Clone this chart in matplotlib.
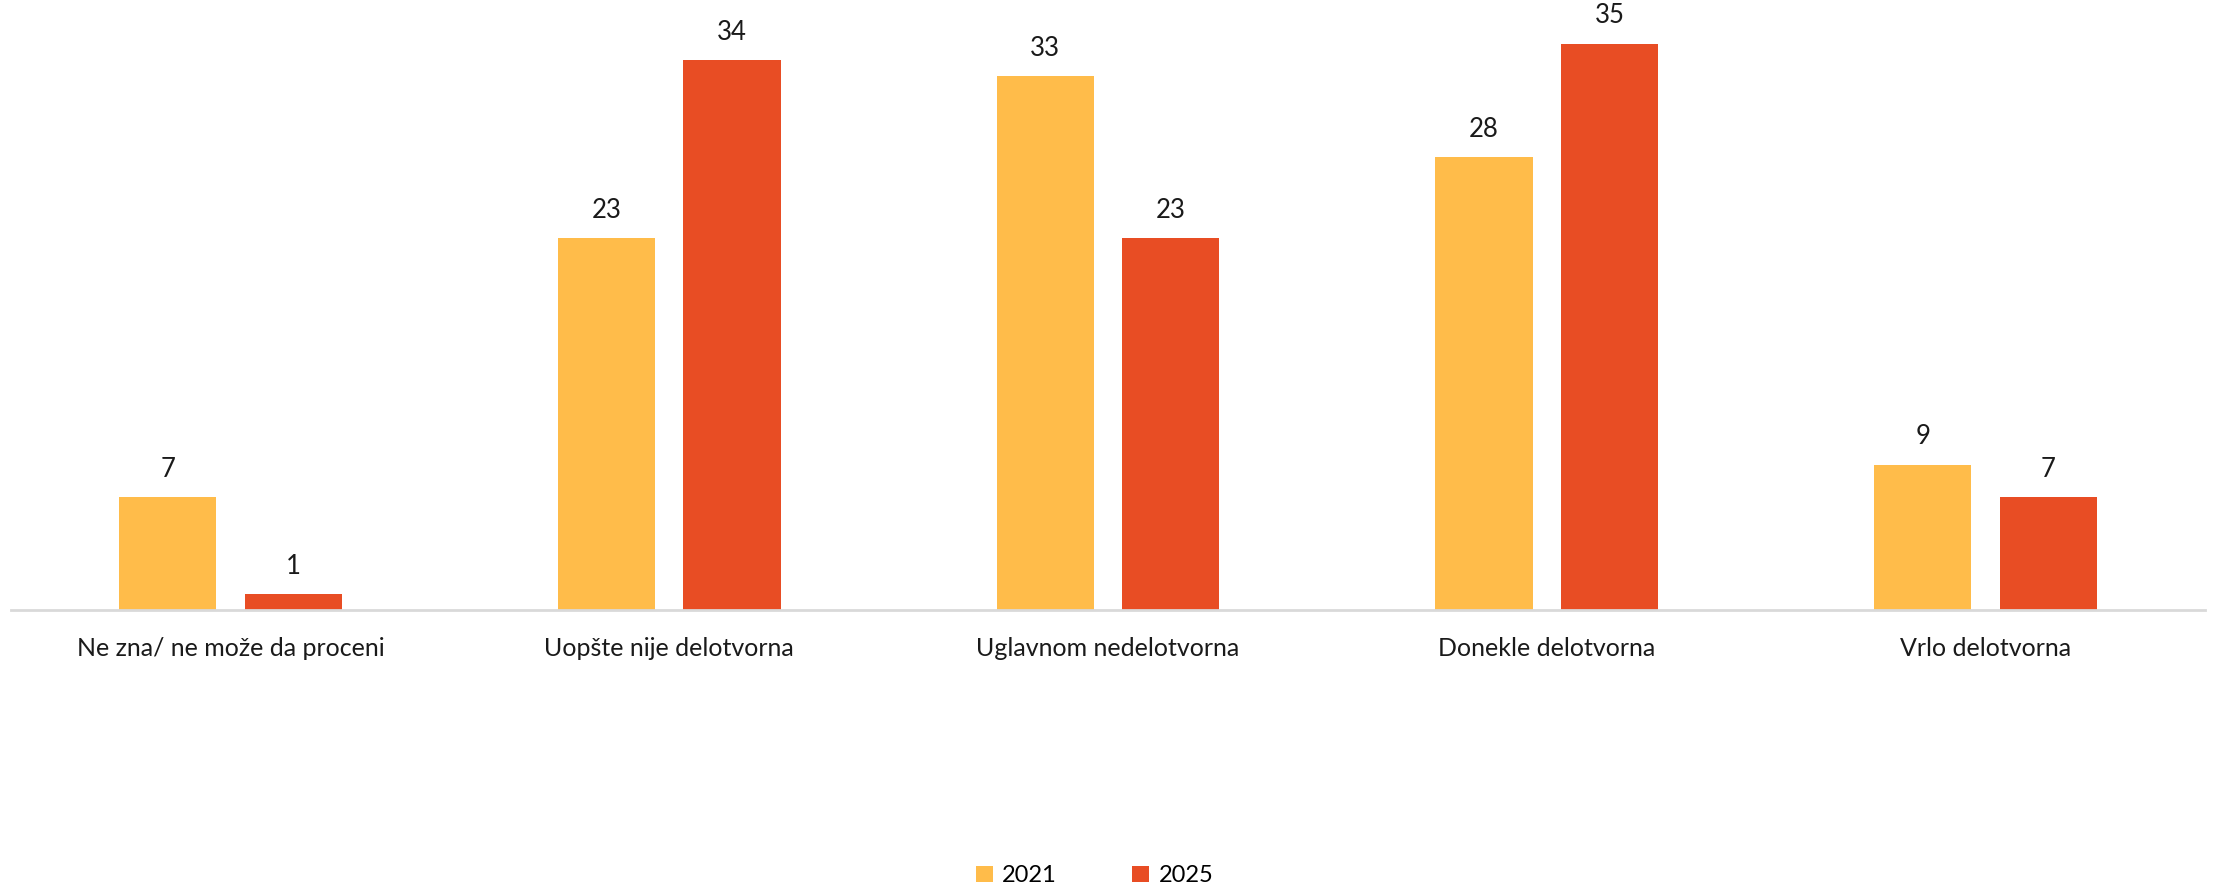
import matplotlib
matplotlib.use("Agg")
import matplotlib.pyplot as plt
import numpy as np

categories = ["Ne zna/ ne može da proceni", "Uopšte nije delotvorna", "Uglavnom nedelotvorna",
              "Donekle delotvorna", "Vrlo delotvorna"]
vals_2021 = [7, 23, 33, 28, 9]
vals_2025 = [1, 34, 23, 35, 7]
series_names = ["2021", "2025"]
colors = ["#FFBC4A", "#E84D24"]

plt.rcParams["font.family"] = ["Lato", "DejaVu Sans"]

fig = plt.figure(figsize=(22.16, 8.9), dpi=100)
ax = fig.add_axes([0.005, 0.3143, 0.99, 0.6857])

x = np.arange(len(categories))
w = 0.222
off = 0.143
b1 = ax.bar(x - off, vals_2021, w, color=colors[0], label=series_names[0])
b2 = ax.bar(x + off, vals_2025, w, color=colors[1], label=series_names[1])

for bars in (b1, b2):
    for r in bars:
        ax.annotate(str(int(r.get_height())), (r.get_x() + r.get_width() / 2, r.get_height()),
                    xytext=(0, 11), textcoords="offset points", ha="center", va="bottom",
                    fontsize=18.5, color="#1a1a1a")

ax.set_xlim(-0.5, len(categories) - 0.5)
ax.set_ylim(0, 37.7)
ax.set_xticks(x)
ax.set_xticklabels(categories, fontsize=18, color="#1a1a1a")
ax.tick_params(axis="x", length=0, pad=19)
ax.set_yticks([])
for s in ["top", "right", "left"]:
    ax.spines[s].set_visible(False)
ax.spines["bottom"].set_color("#D9D9D9")
ax.spines["bottom"].set_linewidth(2)

fig.legend(loc="center", bbox_to_anchor=(0.494, 0.016), ncol=2, frameon=False,
           fontsize=17, handlelength=0.7, handleheight=0.7, columnspacing=3.2,
           handletextpad=0.4)

fig.savefig("out.png", dpi=100, facecolor="white")
